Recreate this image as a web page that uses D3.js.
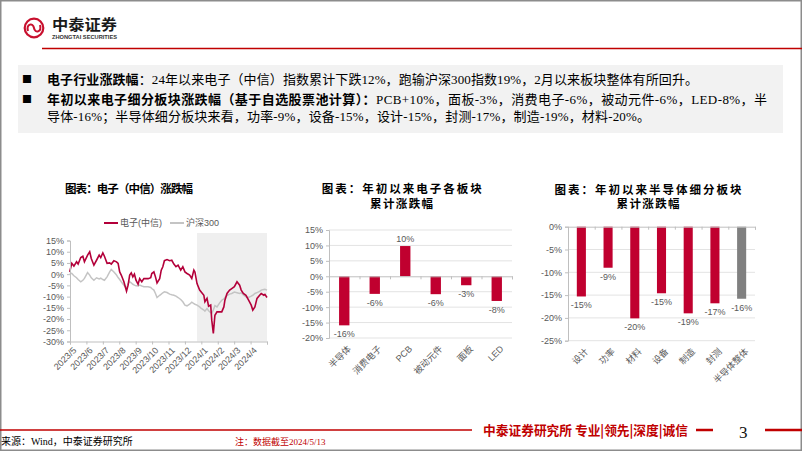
<!DOCTYPE html>
<html><head><meta charset="utf-8">
<script src="https://cdn.jsdelivr.net/npm/d3@7"></script>
<style>
html,body{margin:0;padding:0;background:#fff;}
svg{display:block;}
</style></head>
<body><svg id="c" width="802" height="451"></svg>
<script>
// ---------------- DATA ----------------
const lineDates = ["2023-05-04","2023-05-08","2023-05-12","2023-05-17","2023-05-20","2023-05-25","2023-05-29","2023-06-01","2023-06-07","2023-06-11",
"2023-06-14","2023-06-19","2023-06-24","2023-06-29","2023-07-02","2023-07-06","2023-07-09","2023-07-14","2023-07-19","2023-07-22",
"2023-07-27","2023-08-01","2023-08-04","2023-08-07","2023-08-10","2023-08-15","2023-08-20","2023-08-23","2023-08-26","2023-08-29",
"2023-09-01","2023-09-04","2023-09-07","2023-09-11","2023-09-14","2023-09-18","2023-09-22","2023-09-30","2023-10-05","2023-10-07",
"2023-10-11","2023-10-14","2023-10-17","2023-10-22","2023-10-25","2023-10-28","2023-10-31","2023-11-05","2023-11-10","2023-11-14",
"2023-11-18","2023-11-22","2023-11-26","2023-12-01","2023-12-05","2023-12-09","2023-12-13","2023-12-18","2023-12-22","2023-12-26",
"2023-12-28","2024-01-01","2024-01-06","2024-01-09","2024-01-14","2024-01-16","2024-01-20","2024-01-23","2024-01-27","2024-01-29",
"2024-02-01","2024-02-04","2024-02-08","2024-02-13","2024-02-17","2024-02-21","2024-02-23","2024-02-27","2024-03-03","2024-03-07",
"2024-03-12","2024-03-17","2024-03-22","2024-03-25","2024-03-29","2024-04-03","2024-04-08","2024-04-13","2024-04-16","2024-04-20",
"2024-04-24","2024-04-29","2024-05-02","2024-05-07","2024-05-09","2024-05-13"];
const elecValues = [1.0,4.8,3.6,5.5,4.5,7.4,8.0,5.5,8.5,10.0,
7.0,4.0,6.2,8.5,7.4,9.5,8.0,4.8,5.0,4.5,
6.0,5.5,4.8,1.0,-0.4,-3.4,-7.6,-4.9,-0.4,0.6,
-1.2,0.0,-2.7,-4.5,-2.0,-3.4,-2.0,-2.0,-1.6,0.3,
1.0,-1.2,-3.9,-2.0,1.8,3.3,6.0,6.5,6.0,6.2,
4.5,3.3,4.0,1.8,3.3,1.0,0.3,-0.4,-1.9,1.8,
1.0,-4.2,-7.1,-7.9,-9.4,-12.3,-10.8,-14.3,-13.8,-20.5,
-26.4,-18.3,-16.8,-16.8,-16.8,-14.6,-11.6,-8.6,-7.1,-6.4,
-5.6,-3.4,-4.9,-7.1,-8.6,-9.4,-11.6,-13.8,-16.0,-14.6,
-10.8,-9.4,-8.6,-9.4,-9.0,-10.4];
const hs300Values = [0.5,0.3,-0.7,-1.6,-2.4,-3.4,-2.7,-1.9,0.7,-0.4,
-1.6,-2.7,-1.6,-2.1,-1.8,-2.4,-2.7,-1.2,1.0,2.1,
1.0,-0.4,-1.5,-2.4,-3.4,-4.9,-6.4,-4.2,-3.4,-3.9,
-4.5,-4.9,-5.2,-5.3,-4.9,-5.3,-5.6,-5.6,-5.9,-6.4,
-7.1,-8.6,-10.4,-9.4,-8.9,-8.3,-7.9,-8.2,-8.9,-9.2,
-9.4,-9.8,-10.4,-11.3,-12.3,-13.8,-14.1,-13.4,-12.5,-13.1,
-13.4,-13.8,-14.6,-15.2,-16.0,-16.5,-15.3,-16.3,-17.2,-17.5,
-16.0,-14.0,-14.6,-12.8,-11.6,-11.0,-10.4,-9.5,-8.9,-8.6,
-8.0,-8.3,-8.6,-8.3,-9.2,-10.1,-10.4,-9.8,-9.4,-8.6,
-8.2,-7.7,-7.1,-6.8,-6.7,-7.1];
const lineSeriesNames = ["电子(中信)","沪深300"];
const lineTickLabels = ["2023/5","2023/6","2023/7","2023/8","2023/9","2023/10","2023/11","2023/12","2024/1","2024/2","2024/3","2024/4"];
const lineYTicks = [15,10,5,0,-5,-10,-15,-20,-25,-30];
const shadeStart = "2024-01-01";

const sectorNames = ["半导体","消费电子","PCB","被动元件","面板","LED"];
const sectorValues = [-15.9,-5.7,9.8,-5.8,-2.9,-8.0];
const sectorYTicks = [15,10,5,0,-5,-10,-15,-20];

const semiNames = ["设计","功率","材料","设备","制造","封测","半导体整体"];
const semiValues = [-15.3,-9.0,-20.1,-14.6,-19.0,-16.8,-15.8];
const semiYTicks = [0,-5,-10,-15,-20,-25];

const RED = "#c0002f", LINE_RED = "#b3003a", GRAY_LINE = "#c4c4c4", GRAY_BAR = "#808080";
const AX = "#595959", AXLINE = "#bfbfbf", GRID = "#e3e3e3";
const SANS = "'Liberation Sans','Noto Sans CJK SC',sans-serif";
const CJK = "'Noto Sans CJK SC',sans-serif";
const SERIF = "'Liberation Serif','Noto Sans CJK SC',serif";

const svg = d3.select("#c");
const pct = d => d + "%";

// ---------------- FRAME & HEADER ----------------
svg.append("rect").attr("x",0.75).attr("y",0.75).attr("width",800.5).attr("height",449.5)
  .attr("fill","#fff").attr("stroke","#8c8c8c").attr("stroke-width",1.5);

// logo
const logo = svg.append("g");
logo.append("circle").attr("cx",34).attr("cy",28).attr("r",9.3).attr("fill","none").attr("stroke","#c8102e").attr("stroke-width",2.2);
logo.append("path").attr("d","M28,31 C26,24 33,22 34,28 C35,34 42,32 40,25").attr("fill","none").attr("stroke","#c8102e").attr("stroke-width",2);
logo.append("text").attr("x",52).attr("y",30).attr("font-family",CJK).attr("font-weight",700)
  .attr("font-size",14.5).attr("textLength",65).attr("lengthAdjust","spacingAndGlyphs").attr("fill","#1a1a1a").text("中泰证券");
logo.append("text").attr("x",52).attr("y",39).attr("font-family",SANS).attr("font-weight",700)
  .attr("font-size",5).attr("textLength",65).attr("lengthAdjust","spacingAndGlyphs").attr("fill","#333").text("ZHONGTAI SECURITIES");
svg.append("line").attr("x1",42).attr("x2",802).attr("y1",48.5).attr("y2",48.5).attr("stroke","#c00000").attr("stroke-width",1.3);

// summary box
svg.append("rect").attr("x",18).attr("y",65).attr("width",765).attr("height",68).attr("fill","#f2f2f2");
const sumLines = [
  {y:83.5, bullet:true, len:651, bold:"电子行业涨跌幅", rest:"：24年以来电子（中信）指数累计下跌12%，跑输沪深300指数19%，2月以来板块整体有所回升。"},
  {y:103.5, bullet:true, len:720, bold:"年初以来电子细分板块涨跌幅（基于自选股票池计算）：", rest:"PCB+10%，面板-3%，消费电子-6%，被动元件-6%，LED-8%，半"},
  {y:120.5, bullet:false, len:603, bold:"", rest:"导体-16%；半导体细分板块来看，功率-9%，设备-15%，设计-15%，封测-17%，制造-19%，材料-20%。"}
];
sumLines.forEach(l => {
  if (l.bullet) svg.append("text").attr("x",22).attr("y",l.y-0.5).attr("font-size",10).attr("font-family",CJK).attr("fill","#000").text("■");
  const t = svg.append("text").attr("x",47).attr("y",l.y).attr("font-size",13).attr("fill","#000")
    .attr("textLength",l.len).attr("lengthAdjust","spacing");
  if (l.bold) t.append("tspan").attr("font-family",CJK).attr("font-weight",700).text(l.bold);
  t.append("tspan").attr("font-family",SERIF).attr("font-weight",400).text(l.rest);
});

// chart titles
function title(txt, cx, y, len){
  svg.append("text").attr("x",cx).attr("y",y).attr("text-anchor","middle").attr("font-family",CJK)
    .attr("font-weight",700).attr("font-size",11.5).attr("fill","#000")
    .attr("textLength",len).attr("lengthAdjust","spacing").text(txt);
}
title("图表：电子（中信）涨跌幅",129,192.5,128);
title("图表：年初以来电子各板块",401.7,193,160);
title("累计涨跌幅",401.5,208,63);
title("图表：年初以来半导体细分板块",648,193.5,187);
title("累计涨跌幅",648,208,63);

// ---------------- CHART 1: line ----------------
const parse = d3.timeParse("%Y-%m-%d");
const dates = lineDates.map(parse);
const x1 = d3.scaleTime().domain([dates[0], dates[dates.length-1]]).range([69.7,267]);
const y1 = d3.scaleLinear().domain([-30,15]).range([341.5,240.5]);
const g1 = svg.append("g");
g1.append("rect").attr("x",x1(parse(shadeStart))).attr("y",233)
  .attr("width",267 - x1(parse(shadeStart))).attr("height",y1(-30)-233).attr("fill","#efefef");

const ln = d3.line().x((d,i)=>x1(dates[i])).y(d=>y1(d));
g1.append("path").datum(hs300Values).attr("d",ln).attr("fill","none").attr("stroke",GRAY_LINE).attr("stroke-width",1.5);
g1.append("path").datum(elecValues).attr("d",ln).attr("fill","none").attr("stroke",LINE_RED).attr("stroke-width",1.6);

// y axis
const ya1 = g1.append("g").attr("transform","translate(70,0)")
  .call(d3.axisLeft(y1).tickValues(lineYTicks).tickFormat(pct).tickSize(3).tickPadding(3));
// x axis ticks (month ticks)
const xt1 = d3.scalePoint().domain([...lineTickLabels,""]).range([70,267]);
const xa1 = g1.append("g").attr("transform","translate(0,341.5)")
  .call(d3.axisBottom(xt1).tickSize(3).tickFormat(""));
xa1.selectAll(".tick").filter(d=>d!=="").append("text")
  .attr("transform",`translate(2,5) rotate(-45)`)
  .attr("text-anchor","end").attr("dy","0.7em").text(d=>d);
[ya1, xa1].forEach(a=>{
  a.select(".domain").attr("stroke",AXLINE);
  a.selectAll(".tick line").attr("stroke",AXLINE);
  a.selectAll("text").attr("fill",AX).attr("font-family",SANS).attr("font-size",9);
});
// legend
const leg = g1.append("g");
const legItems = [{n:lineSeriesNames[0],c:LINE_RED,x:104},{n:lineSeriesNames[1],c:GRAY_LINE,x:170}];
legItems.forEach(it=>{
  leg.append("line").attr("x1",it.x).attr("x2",it.x+14).attr("y1",223).attr("y2",223).attr("stroke",it.c).attr("stroke-width",2);
  leg.append("text").attr("x",it.x+16).attr("y",226.3).attr("font-family",SANS).attr("font-size",9).attr("fill",AX).text(it.n);
});

// ---------------- bar chart helper ----------------
function barChart(names, values, colors, xr, ydom, yr, yticks){
  const g = svg.append("g");
  const x = d3.scaleBand().domain(names).range(xr).paddingInner(0.66).paddingOuter(0.33);
  const y = d3.scaleLinear().domain(ydom).range(yr);
  g.append("g").selectAll("line").data(yticks.filter(t=>t!==0)).join("line")
    .attr("x1",xr[0]).attr("x2",xr[1]).attr("y1",d=>y(d)).attr("y2",d=>y(d))
    .attr("stroke",GRID).attr("stroke-width",1);
  g.append("g").selectAll("rect").data(values).join("rect")
    .attr("x",(d,i)=>x(names[i])).attr("width",x.bandwidth())
    .attr("y",d=>y(Math.max(0,d))).attr("height",d=>Math.abs(y(d)-y(0)))
    .attr("fill",(d,i)=>colors[i]);
  const za = g.append("g").attr("transform",`translate(0,${y(0)})`)
    .call(d3.axisBottom(d3.scaleLinear().domain([0,names.length]).range(xr))
      .tickValues(d3.range(names.length+1)).tickSize(3).tickFormat(""));
  za.select(".domain").attr("stroke",AXLINE);
  za.selectAll(".tick line").attr("stroke",AXLINE);
  const ya = g.append("g").attr("transform",`translate(${xr[0]},0)`)
    .call(d3.axisLeft(y).tickValues(yticks).tickFormat(pct).tickSize(3).tickPadding(3));
  ya.select(".domain").attr("stroke",AXLINE);
  ya.selectAll(".tick line").attr("stroke",AXLINE);
  ya.selectAll("text").attr("fill",AX).attr("font-family",SANS).attr("font-size",9);
  g.append("g").selectAll("text").data(values).join("text")
    .attr("x",(d,i)=>x(names[i])+x.bandwidth()/2)
    .attr("y",d=> d>=0 ? y(d)-4.5 : y(d)+12)
    .attr("text-anchor","middle").attr("font-family",SANS).attr("font-size",9).attr("fill",AX)
    .text(d=>Math.round(d)+"%");
  const bottom = y(ydom[0]);
  g.append("g").selectAll("text").data(names).join("text")
    .attr("transform",d=>`translate(${x(d)+x.bandwidth()/2+3},${bottom+7}) rotate(-45)`)
    .attr("text-anchor","end").attr("dy","0.7em")
    .attr("font-family",SANS).attr("font-size",9).attr("fill",AX).text(d=>d);
}

barChart(sectorNames, sectorValues, sectorNames.map(()=>RED), [329,512], [-20,15], [338,230], sectorYTicks);
barChart(semiNames, semiValues, semiNames.map((n,i)=> i===semiNames.length-1 ? GRAY_BAR : RED), [568,755], [-25,0], [340.7,226.7], semiYTicks);

// ---------------- FOOTER ----------------
svg.append("line").attr("x1",0).attr("x2",472).attr("y1",430).attr("y2",430).attr("stroke","#c00000").attr("stroke-width",1.5);
svg.append("text").attr("x",483).attr("y",434.5).attr("font-family",CJK).attr("font-weight",700).attr("font-size",13)
  .attr("fill","#c00000").attr("textLength",205).attr("lengthAdjust","spacingAndGlyphs").text("中泰证券研究所 专业|领先|深度|诚信");
svg.append("line").attr("x1",696).attr("x2",713).attr("y1",430).attr("y2",430).attr("stroke","#c00000").attr("stroke-width",2.5);
svg.append("text").attr("x",739).attr("y",438).attr("font-family",SERIF).attr("font-size",17).attr("fill","#111").text("3");
svg.append("line").attr("x1",765).attr("x2",802).attr("y1",430).attr("y2",430).attr("stroke","#c00000").attr("stroke-width",2.5);
svg.append("text").attr("x",1).attr("y",445).attr("font-family",SERIF).attr("font-size",10).attr("fill","#000").text("来源：Wind，中泰证券研究所");
svg.append("text").attr("x",235).attr("y",445).attr("font-family",SERIF).attr("font-size",9).attr("fill","#c00000").text("注：数据截至2024/5/13");
</script></body></html>
